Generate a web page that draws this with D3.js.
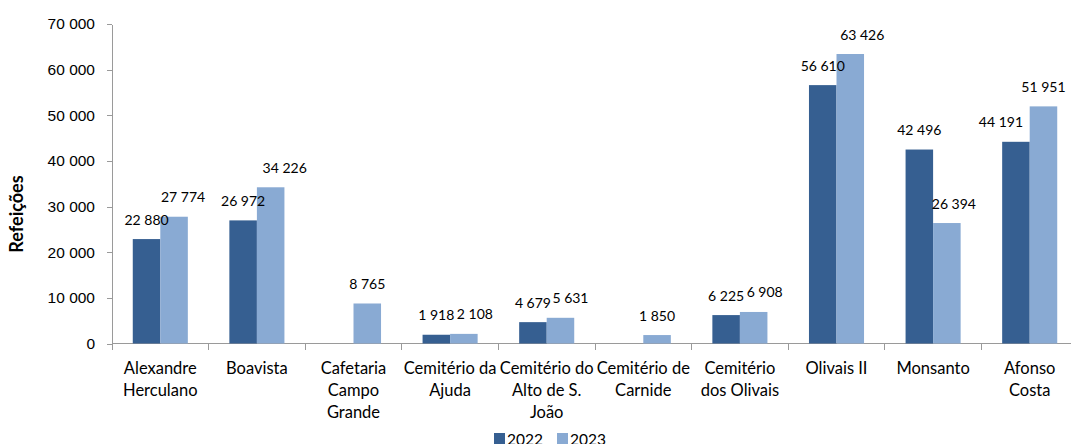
<!DOCTYPE html>
<html>
<head>
<meta charset="utf-8">
<style>
body { margin: 0; background: #fff; }
svg { display: block; font-family: Lato, "Open Sans", sans-serif; }
.axis path, .axis line { stroke: #9a9a9a; shape-rendering: crispEdges; }
.axis text { fill: #000; }
</style>
</head>
<body>
<script src="https://cdn.jsdelivr.net/npm/d3@7"></script>
<script>
// data
var categories = ["Alexandre Herculano", "Boavista", "Cafetaria Campo Grande", "Cemitério da Ajuda",
    "Cemitério do Alto de S. João", "Cemitério de Carnide", "Cemitério dos Olivais", "Olivais II",
    "Monsanto", "Afonso Costa"];
var tickLines = [["Alexandre", "Herculano"], ["Boavista"], ["Cafetaria", "Campo", "Grande"],
    ["Cemitério da", "Ajuda"], ["Cemitério do", "Alto de S.", "João"], ["Cemitério de", "Carnide"],
    ["Cemitério", "dos Olivais"], ["Olivais II"], ["Monsanto"], ["Afonso", "Costa"]];
var series = ["2022", "2023"];
var values2022 = [22880, 26972, null, 1918, 4679, null, 6225, 56610, 42496, 44191];
var values2023 = [27774, 34226, 8765, 2108, 5631, 1850, 6908, 63426, 26394, 51951];
var yTicks = [0, 10000, 20000, 30000, 40000, 50000, 60000, 70000];
var colors = ["#365f91", "#89aad3"];

// label nudges as in the original (px, horizontal), layout only
var labelDx = {
    "2022": [0, 0, 0, 0, 0, 0, 0, 0, 0, -15],
    "2023": [9, 14, 0, 11, 10, 0, 11, 12, 7, 0]
};

// plot area (window.top is reserved, so use an object)
var W = 1071, H = 444;
var plot = {left: 112, right: 1078, top: 24, bottom: 343.5};

var fmt = d3.formatLocale({decimal: ",", thousands: " ", grouping: [3], currency: ["", "€"]}).format(",d");

var rows = [];
categories.forEach(function(c, i) {
    rows.push({cat: c, i: i, key: "2022", value: values2022[i]});
    rows.push({cat: c, i: i, key: "2023", value: values2023[i]});
});

var svg = d3.select("body").append("svg")
    .attr("width", W)
    .attr("height", H);

var x = d3.scaleBand().domain(categories).range([plot.left, plot.right]).padding(0);
var xs = d3.scaleBand().domain(series).range([x.bandwidth() * 0.215, x.bandwidth() * 0.785]).padding(0);
var y = d3.scaleLinear().domain([0, 70000]).range([plot.bottom, plot.top]);
var color = d3.scaleOrdinal().domain(series).range(colors);

// y axis
var yAxis = svg.append("g")
    .attr("class", "axis")
    .attr("transform", "translate(" + plot.left + ",0)")
    .call(d3.axisLeft(y).tickValues(yTicks).tickFormat(fmt).tickSize(5).tickSizeOuter(0).tickPadding(12));
yAxis.selectAll("text").style("font-size", "15.5px");

// x axis line + boundary ticks
var xAxis = svg.append("g")
    .attr("class", "axis")
    .attr("transform", "translate(0," + plot.bottom + ")");
xAxis.append("line")
    .attr("x1", plot.left).attr("x2", plot.right)
    .attr("y1", 0).attr("y2", 0);
xAxis.selectAll("line.tick")
    .data(categories.concat(["end"]))
    .enter().append("line")
    .attr("class", "tick")
    .attr("x1", function(d) { return d === "end" ? x.range()[1] : x(d); })
    .attr("x2", function(d) { return d === "end" ? x.range()[1] : x(d); })
    .attr("y1", 0).attr("y2", 6);

// category labels
var catText = svg.append("g").selectAll("text")
    .data(categories)
    .enter().append("text")
    .attr("text-anchor", "middle")
    .attr("x", function(d) { return x(d) + x.bandwidth() / 2; })
    .attr("y", plot.bottom + 30)
    .style("font-size", "16.5px");
catText.selectAll("tspan")
    .data(function(d, i) { return tickLines[i]; })
    .enter().append("tspan")
    .attr("x", function() { return this.parentNode.getAttribute("x"); })
    .attr("dy", function(d, i) { return i === 0 ? 0 : 22; })
    .text(function(d) { return d; });

// bars
var shown = rows.filter(function(d) { return d.value != null; });
svg.append("g").selectAll("rect")
    .data(shown)
    .enter().append("rect")
    .attr("x", function(d) { return x(d.cat) + xs(d.key); })
    .attr("y", function(d) { return y(d.value); })
    .attr("width", xs.bandwidth())
    .attr("height", function(d) { return y(0) - y(d.value); })
    .attr("fill", function(d) { return color(d.key); });

// value labels
svg.append("g").selectAll("text")
    .data(shown)
    .enter().append("text")
    .attr("text-anchor", "middle")
    .attr("x", function(d) { return x(d.cat) + xs(d.key) + xs.bandwidth() / 2 + labelDx[d.key][d.i]; })
    .attr("y", function(d) { return y(d.value) - 14.5; })
    .style("font-size", "14px")
    .text(function(d) { return fmt(d.value); });

// y axis title
svg.append("text")
    .attr("transform", "translate(23,214) rotate(-90)")
    .attr("text-anchor", "middle")
    .style("font-size", "18px")
    .style("font-weight", "bold")
    .text("Refeições");

// legend
var legend = svg.append("g").attr("transform", "translate(494,433)");
var item = legend.selectAll("g")
    .data(series)
    .enter().append("g")
    .attr("transform", function(d, i) { return "translate(" + (i * 63) + ",0)"; });
item.append("rect")
    .attr("width", 11).attr("height", 11)
    .attr("fill", function(d) { return color(d); });
item.append("text")
    .attr("x", 13).attr("y", 11.5)
    .style("font-size", "15.5px")
    .text(function(d) { return d; });
</script>
</body>
</html>
